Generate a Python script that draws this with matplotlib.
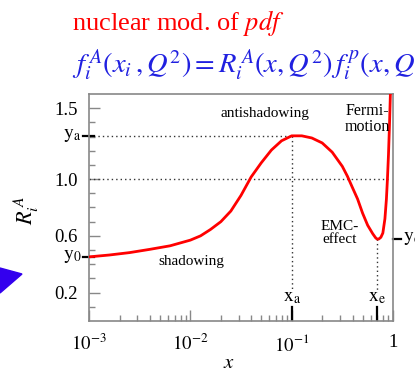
import matplotlib
matplotlib.use('Agg')
import matplotlib.pyplot as plt
from matplotlib.patches import Polygon
import matplotlib.transforms as mtrans
import numpy as np

plt.rcParams['font.family'] = ['Liberation Serif', 'DejaVu Serif']
plt.rcParams['mathtext.fontset'] = 'stix'

# curve: x (log scale) and R_i^A
x_vals = [0.001, 0.00158, 0.00251, 0.00398, 0.00631, 0.01, 0.0126, 0.0158,
          0.02, 0.0251, 0.0316, 0.0398, 0.0501, 0.0631, 0.0794, 0.1, 0.126,
          0.158, 0.2, 0.251, 0.316, 0.355, 0.398, 0.447, 0.501, 0.562, 0.631,
          0.676, 0.700, 0.724, 0.759, 0.794, 0.832, 0.861, 0.881, 0.902,
          0.923, 0.944]
r_vals = [0.452, 0.465, 0.482, 0.505, 0.530, 0.570, 0.600, 0.645,
          0.700, 0.775, 0.885, 1.015, 1.115, 1.205, 1.270, 1.305, 1.305,
          1.290, 1.255, 1.190, 1.090, 1.020, 0.940, 0.860, 0.760, 0.675, 0.615,
          0.585, 0.577, 0.578, 0.590, 0.620, 0.720, 0.860, 1.000, 1.170,
          1.380, 1.620]

x_a, y_a = 0.1, 1.305
x_e, y_e = 0.70, 0.58
y_0 = 0.452

y_ticks = [0.2, 0.6, 1.0, 1.5]
x_ticks = [1e-3, 1e-2, 1e-1, 1]
x_ticklabels = [r'$10^{-3}$', r'$10^{-2}$', r'$10^{-1}$', '1']

fig = plt.figure(figsize=(4.15, 3.74), dpi=100)
ax = fig.add_axes([0.2145, 0.1417, 0.7325, 0.607])

ax.plot(x_vals, r_vals, color='red', lw=2.0, zorder=3)

# dotted guide lines
dot = dict(color='#333333', lw=1.0, ls=(0, (1, 2.2)), zorder=2)
ax.plot([1e-3, x_a], [y_a, y_a], **dot)
ax.plot([1e-3, 0.9], [1.0, 1.0], **dot)
ax.plot([x_a, x_a], [y_a, 0.22], **dot)
ax.plot([x_e, x_e], [y_e, 0.22], **dot)

ax.set_xscale('log')
ax.set_xlim(1e-3, 1)
ax.set_ylim(0.0, 1.6)
ax.set_xticks(x_ticks, x_ticklabels)
ax.set_yticks(y_ticks, ['0.2', '0.6', '1.0', '1.5'])
ax.set_yticks(np.arange(0.1, 1.6, 0.1), minor=True)
ax.tick_params(which='both', direction='in', color='#888888')
ax.tick_params(which='major', length=8, width=1)
ax.tick_params(which='minor', length=4.5, width=1)
ax.tick_params(axis='x', pad=9, labelsize=13.5)
ax.tick_params(axis='y', labelsize=13.5, pad=8)
for s in ax.spines.values():
    s.set_color('#888888')
    s.set_linewidth(1.2)

ax.set_xlabel(r'$x$', fontsize=15, va='center')
ax.xaxis.set_label_coords(0.459, -0.185)
ax.set_ylabel(r'$R_i^{\,A}$', fontsize=16)
ax.yaxis.set_label_coords(-0.158, 0.485)

# marks for y_a, y_0, y_e, x_a, x_e
ytr = mtrans.blended_transform_factory(ax.transAxes, ax.transData)
for yy in [y_a, y_0]:
    ax.plot([-0.02, 0.015], [yy, yy], color='black', lw=1.6, transform=ytr, clip_on=False)
ax.plot([1.0, 1.025], [y_e, y_e], color='black', lw=1.6, transform=ytr, clip_on=False)
ax.text(-0.025, y_a, r'$\mathrm{y_a}$', transform=ytr, ha='right', va='center', fontsize=14)
ax.text(-0.025, y_0, r'$\mathrm{y_0}$', transform=ytr, ha='right', va='center', fontsize=14)
ax.text(1.032, y_e, r'$\mathrm{y_e}$', transform=ytr, ha='left', va='center', fontsize=14)
xtr = mtrans.blended_transform_factory(ax.transData, ax.transAxes)
for xx in [x_a, x_e]:
    ax.plot([xx, xx], [0, 0.06], color='black', lw=1.6, transform=xtr)
ax.text(x_a, 0.165, r'$\mathrm{x_a}$', ha='center', va='center', fontsize=14)
ax.text(x_e, 0.165, r'$\mathrm{x_e}$', ha='center', va='center', fontsize=14)

# region labels
ax.text(0.054, 1.46, 'antishadowing', ha='center', va='center', fontsize=11)
ax.text(0.553, 1.425, 'Fermi-\nmotion', ha='center', va='center', fontsize=11.5, linespacing=0.95)
ax.text(0.295, 0.62, 'EMC-\neffect', ha='center', va='center', fontsize=11, linespacing=0.95)
ax.text(0.0102, 0.42, 'shadowing', ha='center', va='center', fontsize=11)

# header
fig.text(72 / 415, 1 - 30 / 374, 'nuclear mod. of $\\it{pdf}$', color='red',
         fontsize=19, ha='left', va='baseline')
fig.text(72 / 415, 1 - 73 / 374,
         r'$f_i^{\,A}(x_i\,,Q^2)=R_i^{\,A}(x,Q^2)\,f_i^{\,p}(x,Q^2)$',
         color='#2020e0', fontsize=20.5, ha='left', va='baseline')

# blue arrow tip at the left edge
fig.patches.append(Polygon([[0, 1 - 268 / 374], [22 / 415, 1 - 274 / 374], [0, 1 - 293 / 374]],
                           closed=True, transform=fig.transFigure, color='#3300ee'))

fig.savefig('out.png', dpi=100)
